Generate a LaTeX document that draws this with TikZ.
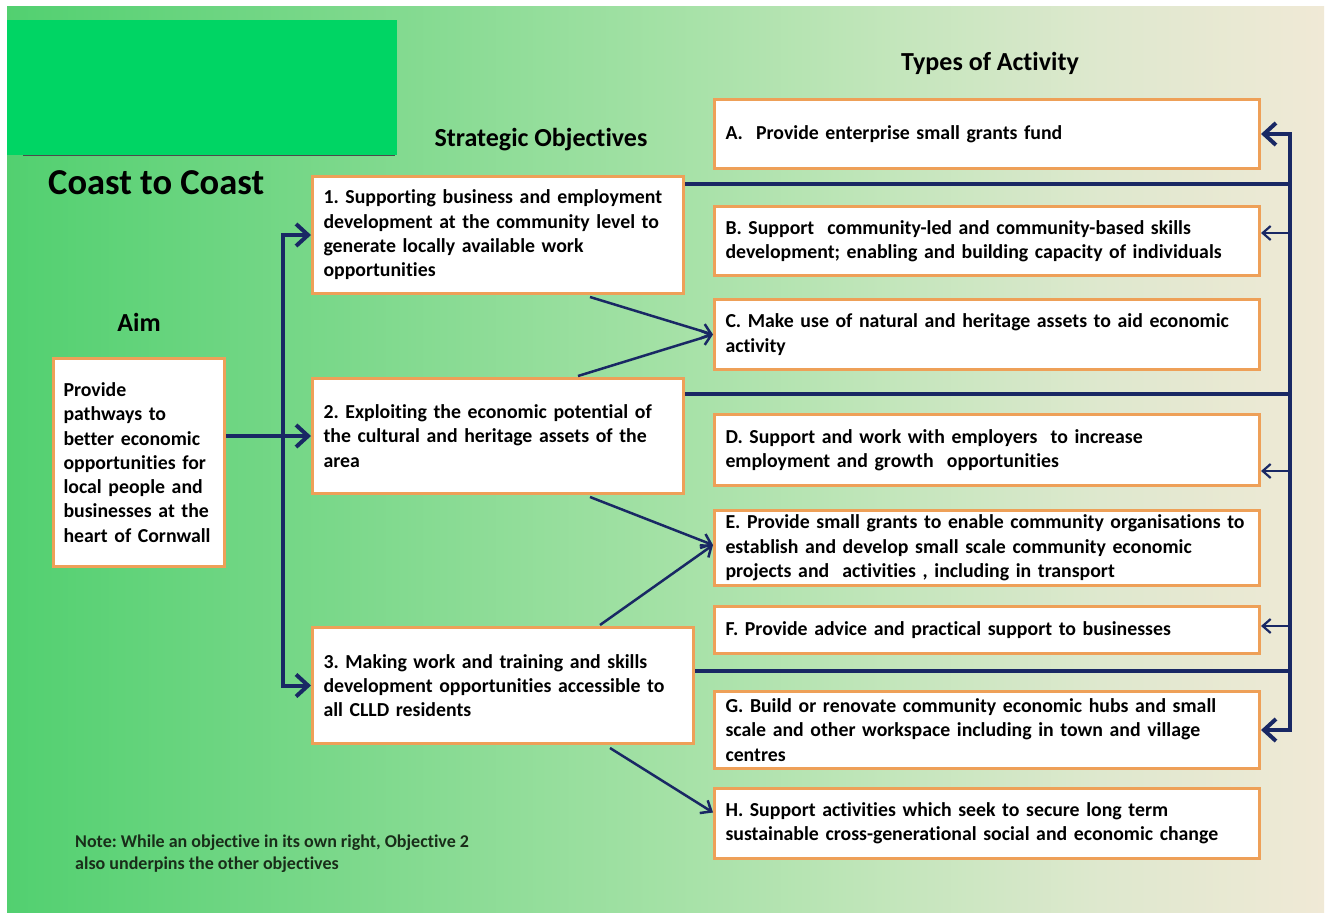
\documentclass[tikz,border=0pt]{standalone}
\usepackage{fontspec}
\setmainfont{Carlito}[Ligatures=NoCommon]
\usetikzlibrary{arrows.meta,calc,positioning}
\definecolor{navy}{RGB}{25,40,100}
\definecolor{boxorange}{RGB}{238,160,88}
\definecolor{slidegreen}{RGB}{0,213,100}
\definecolor{notetext}{RGB}{25,45,25}
\definecolor{bgA}{RGB}{82,208,112}
\definecolor{bgB}{RGB}{122,216,138}
\definecolor{bgC}{RGB}{163,225,165}
\definecolor{bgD}{RGB}{196,230,188}
\definecolor{bgE}{RGB}{222,232,206}
\definecolor{bgF}{RGB}{240,233,214}
\pgfdeclarehorizontalshading{slidebg}{100bp}{color(0bp)=(bgA); color(25bp)=(bgA); color(37.3bp)=(bgB); color(49.8bp)=(bgC); color(58.9bp)=(bgD); color(66.5bp)=(bgE); color(75bp)=(bgF); color(100bp)=(bgF)}

\begin{document}
\frenchspacing
\begin{tikzpicture}[% pixel units, y pointing down
	x=1pt,y=-1pt,
	every node/.style={font=\bfseries},
	box/.style={rectangle,draw=boxorange,line width=3pt,fill=white,align=left,
		inner xsep=11pt,inner ysep=0pt,font=\fontsize{19.8}{24.3}\selectfont\bfseries},
	heading/.style={inner sep=0pt,font=\fontsize{26}{30}\selectfont\bfseries},
	bus/.style={draw=navy,line width=4pt},
	bigtip/.tip={Straight Barb[length=12pt,width=22pt]},
	bigarrow/.style={bus,-bigtip},
	thinarrow/.style={draw=navy,line width=2.2pt,-{Straight Barb[length=8pt,width=14pt]}},
	diagarrow/.style={draw=navy,line width=2.5pt,-{Straight Barb[length=9pt,width=15pt]}}
]
\useasboundingbox (0,0) rectangle (1328,913);
\fill[white] (0,0) rectangle (1328,913);
\shade[shading=slidebg] (7,6) rectangle (1324,912);
\fill[slidegreen] (7,20) rectangle (397,155);
\draw[black!70,line width=1pt] (23,155) -- (395,155);

% headings
\node[inner sep=0pt,anchor=west,font=\fontsize{36.5}{40}\selectfont\bfseries] (title) at (48,183) {Coast to Coast};
\node[heading] (types) at (990,63) {Types of Activity};
\node[heading] (strat) at (541,140) {Strategic Objectives};
\node[heading] (aimlbl) at (139,322) {Aim};

% aim and objectives
\node[box,text width=151pt,inner xsep=10pt,minimum height=208pt] (aim) at (139,462.5)
	{Provide\\pathways to\\better economic\\opportunities for\\local people and\\businesses at the\\heart of Cornwall};
\node[box,text width=349pt,minimum height=117pt] (o1) at (498,235)
	{1. Supporting business and employment\\development at the community level to\\generate locally available work\\opportunities};
\node[box,text width=349pt,minimum height=115pt] (o2) at (498,436)
	{2. Exploiting the economic potential of\\the cultural and heritage assets of the\\area};
\node[box,text width=359pt,minimum height=116pt] (o3) at (503,685.5)
	{3. Making work and training and skills\\development opportunities accessible to\\all CLLD residents};

% types of activity
\node[box,text width=523pt,minimum height=69pt] (a) at (987,134)
	{A.\ \ Provide enterprise small grants fund};
\node[box,text width=523pt,minimum height=69pt] (b) at (987,241)
	{B. Support\ \ community-led and community-based skills\\development; enabling and building capacity of individuals};
\node[box,text width=523pt,minimum height=70pt] (c) at (987,334.5)
	{C. Make use of natural and heritage assets to aid economic\\activity};
\node[box,text width=523pt,minimum height=71pt] (d) at (987,450)
	{D. Support and work with employers\ \ to increase\\employment and growth\ \ opportunities};
\node[box,text width=523pt,minimum height=75pt] (e) at (987,548)
	{E. Provide small grants to enable community organisations to\\establish and develop small scale community economic\\projects and\ \ activities , including in transport};
\node[box,text width=523pt,minimum height=47pt] (f) at (987,630)
	{F. Provide advice and practical support to businesses};
\node[box,text width=523pt,minimum height=77pt] (g) at (987,730)
	{G. Build or renovate community economic hubs and small\\scale and other workspace including in town and village\\centres};
\node[box,text width=523pt,minimum height=70pt] (h) at (987,823.5)
	{H. Support activities which seek to secure long term\\sustainable cross-generational social and economic change};

\node[inner sep=0pt,anchor=west,align=left,text=notetext,font=\fontsize{18}{22}\selectfont\bfseries] (note) at (75,854)
	{Note: While an objective in its own right, Objective 2\\also underpins the other objectives};

% left bus
\coordinate (lbus) at (283,0);
\draw[bigarrow] (aim.east |- o2.west) -- (o2.west);
\draw[bus,bigtip-bigtip] (o1.west) -- (o1.west -| lbus) -- (o3.west -| lbus) -- (o3.west);

% objectives to activities
\draw[diagarrow] ([xshift=92pt,yshift=-2pt]o1.south) -- (c.west);
\draw[diagarrow] ([xshift=80pt,yshift=1pt]o2.north) -- (c.west);
\draw[diagarrow] ([xshift=92pt,yshift=-2pt]o2.south) -- ([yshift=3pt]e.west);
\draw[diagarrow] ([xshift=97pt,yshift=1pt]o3.north) -- ([yshift=3pt]e.west);
\draw[diagarrow] ([xshift=107pt,yshift=-3pt]o3.south) -- ([yshift=11pt]h.west);

% right bus
\coordinate (rbus) at (1290,0);
\coordinate (r1) at (1290,184);
\coordinate (r2) at (1290,394);
\coordinate (r3) at (1290,671);
\coordinate (tb) at (1290,233);
\coordinate (td) at (1290,471);
\coordinate (tf) at (1290,626);
\draw[bus,bigtip-bigtip] (a.east) -- (a.east -| rbus) -- (g.east -| rbus) -- (g.east);
\draw[bus] (o1.east |- r1) -- (r1);
\draw[bus] (o2.east |- r2) -- (r2);
\draw[bus] (o3.east |- r3) -- (r3);
\draw[thinarrow] (tb) -- (b.east |- tb);
\draw[thinarrow] (td) -- (d.east |- td);
\draw[thinarrow] (tf) -- (f.east |- tf);
\end{tikzpicture}
\end{document}
